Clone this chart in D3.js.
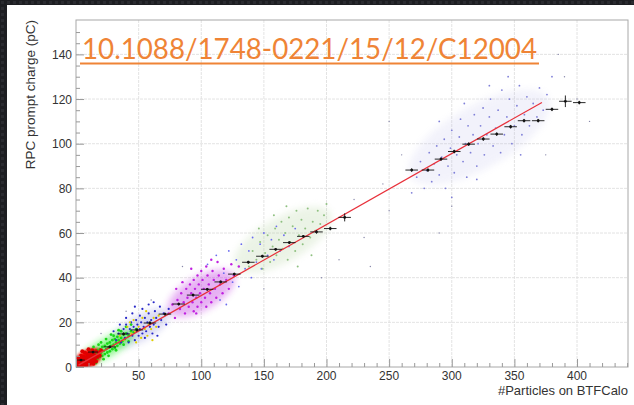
<!DOCTYPE html>
<html><head><meta charset="utf-8">
<script src="https://cdn.jsdelivr.net/npm/d3@7"></script>
<style>html,body{margin:0;padding:0;background:#1f2024;}svg{display:block;}</style>
</head><body>
<svg id="c" width="634" height="405"></svg>
<script>
// ---------- data ----------
const xTicks = [0,50,100,150,200,250,300,350,400];
const yTicks = [0,20,40,60,80,100,120,140];
const xTitle = "#Particles on BTFCalo";
const yTitle = "RPC prompt charge (pC)";
const doiText = "10.1088/1748-0221/15/12/C12004";

// linear fit (red line)
const fitX = [2, 372];
const fitIntercept = 0.2, fitSlope = 0.318;

// profile points (black markers with error bars)
const profX = [4,13.6,27,38,48.7,59,71,82,93.5,104.8,115.5,126.4,137.6,148.8,159.4,170.3,181.5,192,203,214.5,268,281,291.4,302,313.5,325.2,335.9,347,357.7,369,380,390.7,401.8];
const profY = [3.1,6.7,9,14.8,16.6,19.7,23.7,28.2,32.2,34.8,38.1,41.6,46.9,49.6,52.7,55.7,58.5,60.5,62,67,88.2,88.2,93.1,96.5,99.8,102.1,104.3,107.6,110.3,110.3,115.4,119,118.4];
const profEx = [3,4,5,5,5,5,5,5,5,5,5,5,5,5,5,5,5,5,5,5,5,5,5,5,5,5,5,5,5,5,5,5,5];
const profEy = [0.4,0.5,0.5,0.6,0.6,0.6,0.6,0.6,0.6,0.6,0.6,0.6,0.6,0.6,0.6,0.6,0.6,0.8,0.8,1.8,0.8,0.8,0.8,0.8,0.8,0.8,0.8,0.8,0.8,0.8,0.8,2.6,0.8];

// cloud summaries (centre, half-length along fit, half-width)
const cloudNames = ["red","green","blue","magenta","olive","lavender"];
const cloudCx = [9, 25, 52, 100, 165, 322];
const cloudCy = [3.5, 8.8, 17.5, 33, 57, 103];
const cloudHalfLen = [11, 21, 22, 26, 38, 55];
const cloudHalfWid = [4, 4, 5.5, 7.5, 10, 14];

// scatter points per cloud
const redPts = [[1,0.5],[2,1],[2.5,0.3],[3,1.8],[3.5,0.8],[4,2.5],[4,1.2],[4.5,0.4],[5,3],[5,1.6],[5.5,2.2],[6,0.9],[6,3.5],[6.5,2.8],[7,1.5],[7,4],[7.5,2.4],[8,3.2],[8,0.8],[8.5,4.5],[9,2],[9,3.8],[9.5,1.2],[10,3],[10,5],[10.5,2.5],[11,4],[11.5,1.8],[12,3.5],[12,5.5],[13,2.8],[13.5,4.6],[14,6],[15,3.5],[15.5,5],[17,4.5],[18,6.5],[3,3],[2,2.2],[6,4.6],[1.5,1.5],[11,6.2],[16,7],[9,5.8],[4,5],[7,6.5],[13,7.5],[19,5],[5,7],[10,8],[2,4],[16,2.5],[14,1.5],[20,7.5]];
const greenPts = [[8,3],[9,4.5],[10,2.5],[11,5],[12,3.5],[13,6],[13,2.8],[14,4.8],[15,7],[15,4],[16,5.5],[17,3.8],[17,7.5],[18,6],[19,4.5],[19,8],[20,6.5],[21,5],[21,9],[22,7.2],[23,5.8],[23,9.5],[24,8],[25,6.5],[25,10.5],[26,8.8],[27,7],[27,11],[28,9.5],[29,8],[29,12],[30,10],[31,8.5],[31,12.5],[32,11],[33,9.5],[33,13.5],[34,12],[35,10.5],[36,13],[37,11.5],[38,14.5],[39,12.5],[40,15],[42,14],[44,16],[46,15.5],[20,11],[30,14],[14,9],[36,16],[24,12.5],[18,10],[28,14.5],[34,16.5],[40,18],[26,5],[32,7.5],[38,10],[22,3.5],[44,19],[48,17],[12,7.5],[16,1.8],[42,11.5]];
const bluePts = [[32,12],[34,15],[36,11],[38,17],[39,13],[40,19],[41,15],[42,11],[43,17],[44,20],[45,14],[46,18],[47,12],[48,16],[48,21],[49,19],[50,14],[51,17],[51,23],[52,20],[53,15],[54,18],[55,22],[55,13],[56,16],[57,20],[58,24],[59,18],[60,21],[61,15],[62,19],[63,25],[64,22],[66,18],[67,27],[68,21],[70,24],[72,19],[74,26],[45,24],[40,22],[58,28],[35,19],[65,14],[30,16],[53,26],[62,29],[47,27]];
const yellowPts = [[35,14],[38,12],[41,18],[44,15],[46,21],[47,16],[50,18],[52,13],[53,22],[55,17],[57,14],[58,19],[60,17],[62,22],[64,18],[66,23],[48,11],[56,25],[43,20],[61,12]];
const magentaPts = [[74,24],[77,28],[79,22],[81,30],[83,26],[84,33],[86,29],[87,24],[88,35],[89,31],[90,27],[91,37],[92,33],[93,29],[94,25],[94,39],[95,35],[96,31],[97,27],[97,41],[98,37],[99,33],[100,29],[100,43],[101,39],[102,35],[103,31],[104,27],[104,45],[105,41],[106,37],[107,33],[108,29],[109,43],[110,39],[111,35],[112,31],[113,47],[114,41],[115,37],[117,33],[118,44],[120,39],[122,35],[124,46],[126,41],[85,38],[92,44],[80,35],[96,24],[108,48],[130,45]];
const lightBluePts = [[105,46],[112,50],[118,42],[122,52],[125,38],[128,48],[132,55],[135,44],[138,52],[141,58],[144,47],[147,55],[150,60],[153,50],[156,57],[160,63],[163,52],[166,59],[170,54],[175,62],[115,30],[130,36],[140,40],[148,44],[158,48],[120,28]];
const olivePts = [[138,45],[141,52],[144,48],[147,56],[149,44],[151,51],[153,59],[155,47],[157,54],[159,62],[160,50],[162,57],[164,65],[165,53],[167,60],[169,48],[170,67],[171,56],[173,63],[175,52],[176,70],[178,59],[180,66],[181,55],[183,62],[185,71],[187,58],[189,65],[191,61],[193,70],[195,64],[198,68],[200,73],[168,72],[158,68],[188,50],[146,62],[177,45]];
const lavenderPts = [[268,78],[272,85],[275,92],[278,80],[280,88],[282,96],[284,83],[286,91],[288,99],[290,86],[292,94],[294,102],[295,80],[297,90],[299,98],[300,106],[302,87],[304,95],[306,103],[307,111],[309,92],[311,100],[312,85],[313,108],[315,96],[317,104],[318,113],[320,90],[321,100],[323,108],[325,116],[326,95],[328,104],[330,112],[331,120],[333,99],[335,107],[337,115],[339,96],[340,124],[342,104],[344,112],[346,120],[348,100],[350,108],[352,117],[354,126],[356,104],[358,113],[360,121],[362,108],[365,118],[368,112],[370,125],[373,115],[376,122],[345,130],[330,126],[310,118],[290,110],[355,95],[320,84],[380,130],[300,76]];
const strayPts = [[230,58],[250,70],[210,48],[260,95],[390,130],[400,120],[235,45],[290,60],[300,72],[375,95],[150,35],[60,30],[40,25],[20,15],[410,110],[385,140],[250,110],[222,75],[196,40],[85,45],[245,82]];

// ---------- styles ----------
const cloudStyle = {
  red:      {color:"#ff0000", opacity:1.0,  blur:1.5},
  green:    {color:"#22ee22", opacity:0.55, blur:3.5},
  blue:     {color:"#6a6ad0", opacity:0.25, blur:3.5},
  magenta:  {color:"#c030e0", opacity:0.38, blur:3.5},
  olive:    {color:"#a8cc90", opacity:0.22, blur:3.5},
  lavender: {color:"#a8a8e4", opacity:0.14, blur:3.5}
};
const pointSets = [
  {pts: greenPts, color: "#18d818", r: 1.4},
  {pts: redPts, color: "#e00000", r: 2},
  {pts: bluePts, color: "#2828c8", r: 1.1},
  {pts: yellowPts, color: "#e0d000", r: 1.1},
  {pts: magentaPts, color: "#c020e0", r: 1.2},
  {pts: lightBluePts, color: "#6a6af0", r: 0.9},
  {pts: olivePts, color: "#8fc080", r: 1},
  {pts: lavenderPts, color: "#7f7fd8", r: 0.9},
  {pts: strayPts, color: "#8888aa", r: 0.7}
];

// ---------- drawing ----------
const svg = d3.select("#c");
const W = 634, H = 405;
const L = 76, R = 628, T = 20, B = 367;
const x = d3.scaleLinear().domain([0, 440.7]).range([L, R]);
const y = d3.scaleLinear().domain([0, 155.4]).range([B, T]);

const defs = svg.append("defs");
const pat = defs.append("pattern").attr("id","bg").attr("width",6).attr("height",6).attr("patternUnits","userSpaceOnUse");
pat.append("rect").attr("width",6).attr("height",6).attr("fill","#1d1e22");
pat.append("rect").attr("x",1).attr("y",1).attr("width",3).attr("height",3).attr("fill","#2a2b30");
cloudNames.forEach(n=>{
  defs.append("filter").attr("id","blur-"+n).attr("x","-50%").attr("y","-50%").attr("width","200%").attr("height","200%")
    .append("feGaussianBlur").attr("stdDeviation",cloudStyle[n].blur);
});
defs.append("clipPath").attr("id","clip").append("rect").attr("x",L).attr("y",T).attr("width",R-L).attr("height",B-T);

svg.append("rect").attr("width",W).attr("height",H).attr("fill","url(#bg)");
svg.append("rect").attr("x",7).attr("y",5).attr("width",W-7).attr("height",H-5).attr("fill","#ffffff");

// grid
const grid = svg.append("g").attr("stroke","#dcdcdc").attr("stroke-width",0.8).attr("stroke-dasharray","3,1");
grid.selectAll("line.gx").data(xTicks.filter(d=>d>0)).join("line")
  .attr("x1",d=>x(d)).attr("x2",d=>x(d)).attr("y1",T).attr("y2",B);
grid.selectAll("line.gy").data(yTicks.filter(d=>d>0)).join("line")
  .attr("y1",d=>y(d)).attr("y2",d=>y(d)).attr("x1",L).attr("x2",R);

// clouds (drawn back to front so the dense red core sits on top)
const plot = svg.append("g").attr("clip-path","url(#clip)");
const pxSlopeAngle = Math.atan2(y(fitSlope*100)-y(0), x(100)-x(0)) * 180/Math.PI;
const drawOrder = cloudNames.slice().reverse();
const ci = n => cloudNames.indexOf(n);
plot.append("g").selectAll("ellipse").data(drawOrder).join("ellipse")
  .attr("filter",n=>`url(#blur-${n})`)
  .attr("cx",n=>x(cloudCx[ci(n)])).attr("cy",n=>y(cloudCy[ci(n)]))
  .attr("rx",n=>{const i=ci(n); const dx=x(cloudCx[i]+cloudHalfLen[i])-x(cloudCx[i]); const dy=y(cloudCy[i])-y(cloudCy[i]+fitSlope*cloudHalfLen[i]); return Math.hypot(dx,dy);})
  .attr("ry",n=>y(0)-y(cloudHalfWid[ci(n)]))
  .attr("transform",n=>`rotate(${pxSlopeAngle},${x(cloudCx[ci(n)])},${y(cloudCy[ci(n)])})`)
  .attr("fill",n=>cloudStyle[n].color).attr("opacity",n=>cloudStyle[n].opacity);

pointSets.forEach(s=>{
  plot.append("g").selectAll("circle").data(s.pts).join("circle")
    .attr("cx",d=>x(d[0])).attr("cy",d=>y(d[1])).attr("r",s.r).attr("fill",s.color);
});

// fit line
plot.append("line")
  .attr("x1",x(fitX[0])).attr("y1",y(fitIntercept+fitSlope*fitX[0]))
  .attr("x2",x(fitX[1])).attr("y2",y(fitIntercept+fitSlope*fitX[1]))
  .attr("stroke","#e8303a").attr("stroke-width",1.2);

// profile
const prof = plot.append("g").attr("stroke","#111").attr("stroke-width",0.9);
profX.forEach((px,i)=>{
  prof.append("line").attr("x1",x(px-profEx[i])).attr("x2",x(px+profEx[i])).attr("y1",y(profY[i])).attr("y2",y(profY[i]));
  prof.append("line").attr("x1",x(px)).attr("x2",x(px)).attr("y1",y(profY[i]-profEy[i])).attr("y2",y(profY[i]+profEy[i]));
  prof.append("circle").attr("cx",x(px)).attr("cy",y(profY[i])).attr("r",1.4).attr("fill","#111").attr("stroke","none");
});

// frame
svg.append("rect").attr("x",L).attr("y",T).attr("width",R-L).attr("height",B-T)
  .attr("fill","none").attr("stroke","#a8a8a8").attr("stroke-width",1);

// axes with ROOT-like inward ticks
const axX = d3.axisBottom(x).tickValues(d3.range(0,441,10)).tickSize(0).tickFormat("");
const gx = svg.append("g").attr("transform",`translate(0,${B})`).call(axX);
gx.select(".domain").remove();
gx.selectAll(".tick line").attr("y2",d=> d%50===0 ? -8 : -4).attr("stroke","#999");
svg.append("g").selectAll("text").data(xTicks.filter(d=>d>0)).join("text")
  .attr("x",d=>x(d)).attr("y",B+13).attr("text-anchor","middle")
  .attr("font-family","Liberation Sans, Arial, sans-serif").attr("font-size",12).attr("fill","#333").text(d=>d);

const axY = d3.axisLeft(y).tickValues(d3.range(0,155,5)).tickSize(0).tickFormat("");
const gy = svg.append("g").attr("transform",`translate(${L},0)`).call(axY);
gy.select(".domain").remove();
gy.selectAll(".tick line").attr("x2",d=> d%20===0 ? 8 : 4).attr("stroke","#999");
svg.append("g").selectAll("text").data(yTicks).join("text")
  .attr("x",L-4).attr("y",d=>y(d)+4.5).attr("text-anchor","end")
  .attr("font-family","Liberation Sans, Arial, sans-serif").attr("font-size",12).attr("fill","#333").text(d=>d);

// titles
svg.append("text").attr("x",R).attr("y",395).attr("text-anchor","end")
  .attr("font-family","Liberation Sans, Arial, sans-serif").attr("font-size",13).attr("fill","#333").text(xTitle);
svg.append("text").attr("transform",`translate(34.5,${T}) rotate(-90)`).attr("text-anchor","end")
  .attr("font-family","Liberation Sans, Arial, sans-serif").attr("font-size",13.5).attr("fill","#333").text(yTitle);

// DOI overlay
svg.append("text").attr("x",82).attr("y",59).attr("textLength",455).attr("lengthAdjust","spacingAndGlyphs")
  .attr("font-family","Lato, Open Sans, sans-serif").attr("font-size",28).attr("fill","#ef8436").text(doiText);
svg.append("line").attr("x1",80).attr("x2",539).attr("y1",63.5).attr("y2",63.5).attr("stroke","#ef8436").attr("stroke-width",2);
</script>
</body></html>
